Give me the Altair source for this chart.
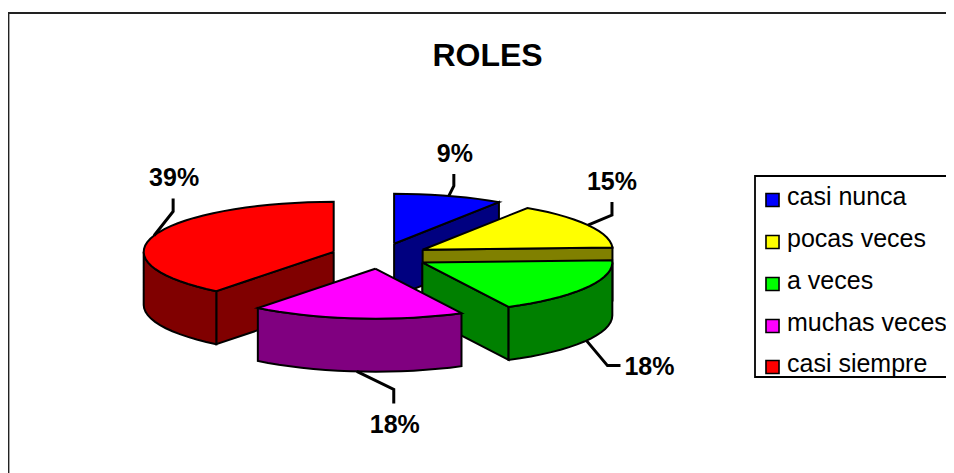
import math
import altair as alt
import pandas as pd

categories = ["casi nunca", "pocas veces", "a veces", "muchas veces", "casi siempre"]
shares = [9.3, 15.0, 18.2, 18.1, 39.4]
labels = ["9%", "15%", "18%", "18%", "39%"]
top_colors = ["#0000ff", "#ffff00", "#00ff00", "#ff00ff", "#ff0000"]
side_colors = ["#000080", "#808000", "#008000", "#800080", "#800000"]
title_text = "ROLES"

# pie layout
CX, CY, RX, RY, DEPTH, EXPLODE, TILT = 380, 256, 190, 50, 53, 49, 0.26
DRAW_ORDER = [0, 1, 2, 4, 3]
# leader: elbow offset from edge point, end offset from elbow, label offset from end
LEADERS = [((5, -10), (0, -12), (1, -20)),
           ((24, -10), (0, -13), (0, -20)),
           ((21, 25), (13, 0), (29, 1)),
           ((37, 18), (0, 14), (1, 22)),
           ((19, -24), (0, -13), (1, -20))]

XS = alt.Scale(domain=[8, 946], nice=False, zero=False)
X = alt.X("x:Q", scale=XS, axis=None)
Y = alt.Y("y:Q", scale=alt.Scale(domain=[473, 8], nice=False, zero=False), axis=None)


def poly(points, fill=None, stroke="black", width=2.0):
    df = pd.DataFrame({"x": [p[0] for p in points], "y": [p[1] for p in points],
                       "i": list(range(len(points)))})
    kw = dict(stroke=stroke, strokeWidth=width, strokeJoin="miter", clip=False)
    if fill:
        kw["fill"] = fill
    return alt.Chart(df).mark_line(**kw).encode(x=X, y=Y, order=alt.Order("i:Q"))


total = sum(shares)
starts, ends = [], []
acc = 0.0
for s in shares:
    starts.append(acc / total * 360)
    acc += s
    ends.append(acc / total * 360)

layers = [
    poly([(8.5, 473), (8.5, 13), (946, 13)], width=1.8, stroke="#222222"),
]
leaders = []
texts = []
for k in DRAW_ORDER:
    a0, a1 = starts[k], ends[k]
    mid = math.radians((a0 + a1) / 2)
    cx = CX + EXPLODE * math.sin(mid)
    cy = CY - EXPLODE * TILT * math.cos(mid)

    def pt(deg, drop=0.0):
        r = math.radians(deg)
        return (cx + RX * math.sin(r), cy - RY * math.cos(r) + drop)

    def arc(d0, d1, drop=0.0):
        n = max(2, int((d1 - d0) / 4) + 1)
        return [pt(d0 + (d1 - d0) * j / n, drop) for j in range(n + 1)]

    apex = (cx, cy)
    low = (cx, cy + DEPTH)
    if 0 < a1 < 180:  # clockwise end face
        layers.append(poly([apex, pt(a1), pt(a1, DEPTH), low, apex], side_colors[k]))
    if 180 < a0 < 360:  # start face
        layers.append(poly([apex, pt(a0), pt(a0, DEPTH), low, apex], side_colors[k]))
    f0, f1 = max(a0, 90), min(a1, 270)
    if f1 > f0:
        outer = arc(f0, f1) + arc(f0, f1, DEPTH)[::-1]
        layers.append(poly(outer + [outer[0]], side_colors[k]))
    top = [apex] + arc(a0, a1) + [apex]
    layers.append(poly(top, top_colors[k]))

    front = 90 < math.degrees(mid) < 270
    p0 = pt(math.degrees(mid), DEPTH if front else 0)
    (dx, dy), (ex, ey), (lx, ly) = LEADERS[k]
    p1 = (p0[0] + dx, p0[1] + dy)
    p2 = (p1[0] + ex, p1[1] + ey)
    leaders.append(poly([p0, p1, p2], width=3))
    texts.append({"x": p2[0] + lx, "y": p2[1] + ly, "t": labels[k]})

text_layer = alt.Chart(pd.DataFrame(texts)).mark_text(
    font="Liberation Sans", fontWeight="bold", fontSize=25, color="black", baseline="middle"
).encode(x=X, y=Y, text="t:N")

title_layer = alt.Chart(pd.DataFrame({"x": [487.5], "y": [56], "t": [title_text]})).mark_text(
    font="Liberation Sans", fontWeight="bold", fontSize=32, color="black", baseline="middle"
).encode(x=X, y=Y, text="t:N")

legend_box = poly([(946, 176), (755, 176), (755, 377), (946, 377)], width=1.8)
legend_y = [200, 242, 284, 326, 367]
leg_df = pd.DataFrame({"x": [772.5] * 5, "tx": [787] * 5, "y": legend_y,
                       "cat": categories, "color": top_colors})
leg_swatch = alt.Chart(leg_df).mark_point(
    shape="square", filled=True, size=170, stroke="black", strokeWidth=1.6, opacity=1
).encode(x=X, y=Y, fill=alt.Fill("color:N", scale=None))
leg_text = alt.Chart(leg_df).mark_text(
    font="Liberation Sans", fontSize=25, color="black", align="left", baseline="middle", dy=-3
).encode(x=alt.X("tx:Q", scale=XS, axis=None), y=Y, text="cat:N")

chart = alt.layer(*layers, *leaders, text_layer, title_layer, legend_box, leg_swatch, leg_text).properties(
    width=938, height=465, padding=0,
    autosize=alt.AutoSizeParams(type="none"),
    background="white",
).configure_view(stroke=None)

chart.save("out.html", embed_options={"renderer": "svg", "actions": False})
